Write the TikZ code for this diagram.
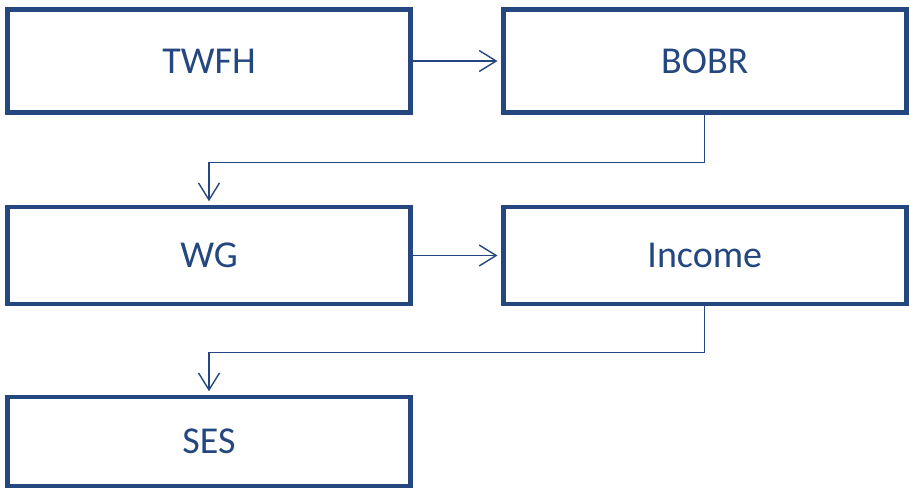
\documentclass[tikz,border=0pt]{standalone}
\usepackage{fontspec}
\setmainfont{Carlito}
\usetikzlibrary{arrows.meta,positioning}
\definecolor{boxblue}{HTML}{24477F}

\begin{document}
\begin{tikzpicture}[x=1pt, y=-1pt,
    factor/.style={rectangle, draw=boxblue, line width=4.5pt, text=boxblue, minimum width=403pt, font=\fontsize{38}{40}\selectfont},
    link/.style={draw=boxblue, line width=1.4pt, -{Straight Barb[length=17pt,width=21pt,line width=1.4pt]}, shorten >=3.5pt}]
    \useasboundingbox (0,0) rectangle (909,488);

    % Top row
    \node[factor, minimum height=103pt] (twfh) at (209,61) {TWFH};
    \node[factor, minimum height=103pt] (bobr) at (704.75,61) {BOBR};

    % Middle row
    \node[factor, minimum height=97pt] (wg) at (209,255.5) {WG};
    \node[factor, minimum height=97pt] (income) at (704.75,255.5) {Income};

    % Bottom row
    \node[factor, minimum height=89pt] (ses) at (209,441.5) {SES};

    % Arrows
    \draw[link] (twfh) -- (bobr);
    \draw[link] (bobr.south) -- ++(0,47.5) -| (wg.north);
    \draw[link] (wg) -- (income);
    \draw[link] (income.south) -- ++(0,46.5) -| (ses.north);
\end{tikzpicture}
\end{document}
